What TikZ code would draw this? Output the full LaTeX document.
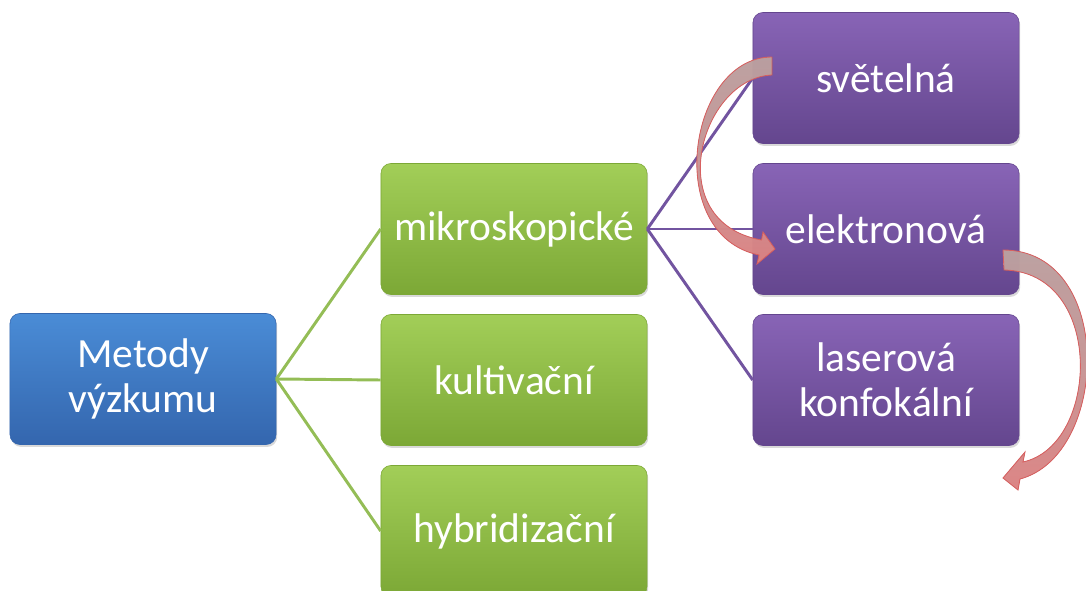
\documentclass[tikz,border=0pt]{standalone}
\usepackage{fontspec}
\setmainfont{Carlito}
\usetikzlibrary{shadows}
\definecolor{bluetop}{RGB}{74,140,214}
\definecolor{bluebot}{RGB}{52,102,174}
\definecolor{greentop}{RGB}{162,206,88}
\definecolor{greenbot}{RGB}{124,168,54}
\definecolor{purpletop}{RGB}{136,100,182}
\definecolor{purplebot}{RGB}{100,70,142}
\definecolor{greenline}{RGB}{148,189,86}
\definecolor{purpleline}{RGB}{114,84,160}
\definecolor{arrowtop}{RGB}{214,184,184}
\definecolor{arrowbot}{RGB}{252,150,150}
\definecolor{arrowedge}{RGB}{216,96,96}
\begin{document}
\begin{tikzpicture}[x=0.025cm, y=-0.025cm]
	\tikzstyle{box}=[rectangle, rounded corners=0.25cm, minimum width=6.65cm, minimum height=3.275cm, align=center, text=white, font=\fontsize{29.5}{32}\selectfont, drop shadow={opacity=0.3, shadow xshift=0.03cm, shadow yshift=-0.06cm}]
	\tikzstyle{flow}=[draw=arrowedge, line width=0.6pt, fill opacity=0.85, top color=arrowtop, bottom color=arrowbot, middle color=arrowtop!60!arrowbot]
	\useasboundingbox (0,0) rectangle (1086,591);
	% Root
	\node at (143, 379) [box, top color=bluetop, bottom color=bluebot, draw=bluebot] (first_1) {Metody\\výzkumu};
	% Level 1
	\foreach \lbl [count=\x] in {mikroskopické, kultivační, hybridizační}
		\node at (514, 78+\x*151) [box, top color=greentop, bottom color=greenbot, draw=greenbot] (second_\x) {\lbl};
	% Level 2
	\foreach \lbl [count=\x] in {světelná, elektronová, {laserová\\konfokální}}
		\node at (886, -73+\x*151) [box, top color=purpletop, bottom color=purplebot, draw=purplebot] (third_\x) {\lbl};
	%---------------------%
	% Root -> Level 1
	\foreach \j in {1,...,3}
		\draw[greenline, line width=2.1pt] (first_1.east) -- (second_\j.west);
	% Level 1 -> Level 2
	\foreach \j in {1,...,3}
		\draw[purpleline, line width=2.1pt] (second_1.east) -- (third_\j.west);
	%---------------------%
	% curved arrows
	\filldraw[flow] (772,57) .. controls (688,57) and (662,235) .. (759,255) -- (757,264) -- (775,249) -- (763,232) -- (761.5,240) .. controls (660,222) and (700,78) .. (772,75) -- cycle;
	\filldraw[flow] (1003,250) .. controls (1115,250) and (1110,455) .. (1020,479) -- (1018,490) -- (1003,478) -- (1025,452) -- (1023,462) .. controls (1100,445) and (1105,272) .. (1004,270) -- cycle;
	%---------------------%
\end{tikzpicture}
\end{document}
